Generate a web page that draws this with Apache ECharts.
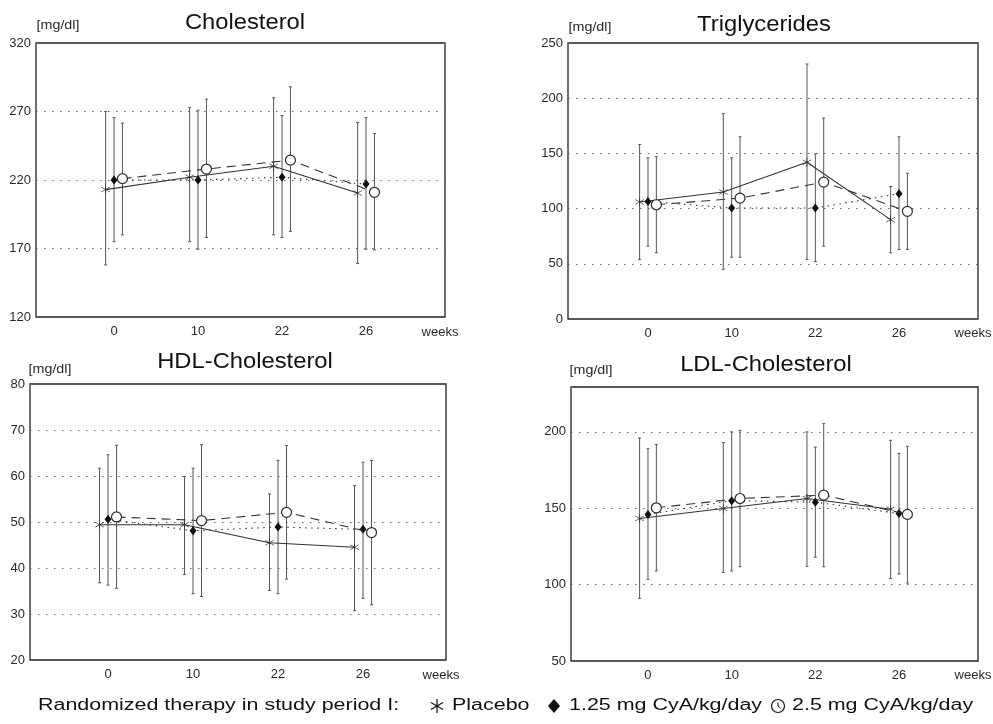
<!DOCTYPE html>
<html><head><meta charset="utf-8">
<script src="https://cdn.jsdelivr.net/npm/echarts@6/dist/echarts.min.js"></script>
<style>html,body{margin:0;padding:0;background:#fff}#c{width:993px;height:724px}</style>
</head><body><div id="c"></div>
<script>
// ---- Data ----
const weekLabels = ['0', '10', '22', '26'];
const seriesNames = ['Placebo', '1.25 mg CyA/kg/day', '2.5 mg CyA/kg/day'];
const captionText = 'Randomized therapy in study period I:';

// Cholesterol [mg/dl]
const cholPlacebo = [213, 222, 230, 210.5];
const cholPlaceboErr = [[158, 270], [175, 273], [180, 280], [159, 262]];
const chol125 = [220, 220, 222, 217];
const chol125Err = [[175, 265.5], [169.5, 271], [178, 267], [169.5, 265.5]];
const chol25 = [221, 228, 234.5, 211];
const chol25Err = [[180, 261.5], [178, 279], [182.5, 288], [169, 254]];

// Triglycerides [mg/dl]
const trigPlacebo = [106, 115, 142, 90];
const trigPlaceboErr = [[54, 158], [45, 186], [54, 231], [60, 120]];
const trig125 = [106.5, 100.5, 100.5, 113.5];
const trig125Err = [[66, 146], [56, 146], [52, 149.5], [63, 165]];
const trig25 = [103.5, 109.5, 124, 97.5];
const trig25Err = [[60, 147], [56, 165], [66, 182], [63, 132]];

// HDL-Cholesterol [mg/dl]
const hdlPlacebo = [49.4, 49.4, 45.5, 44.5];
const hdlPlaceboErr = [[36.8, 61.7], [38.6, 59.9], [35.1, 56.1], [30.7, 57.9]];
const hdl125 = [50.6, 48.1, 48.9, 48.4];
const hdl125Err = [[36.3, 64.6], [34.4, 61.7], [34.4, 63.4], [33.4, 63.0]];
const hdl25 = [51.1, 50.3, 52.1, 47.7];
const hdl25Err = [[35.6, 66.7], [33.8, 66.8], [37.6, 66.6], [32, 63.4]];

// LDL-Cholesterol [mg/dl]
const ldlPlacebo = [143.3, 149.8, 156.4, 149.4];
const ldlPlaceboErr = [[91, 196], [108, 193], [112, 200], [104, 194.5]];
const ldl125 = [146, 155, 154, 146.5];
const ldl125Err = [[103.5, 189], [109, 200], [118, 190], [107, 186]];
const ldl25 = [150.3, 156.4, 158.6, 146];
const ldl25Err = [[109, 191.7], [111.7, 201], [111.7, 205.4], [101, 190.6]];

// ---- Layout / style ----
const FONT = 'Liberation Sans, Arial, Helvetica, sans-serif';
const INK = '#2a2a2a';
const ASTER = 'path://M9.4 1L10.6 1L10.6 19L9.4 19Z M1.64 4.48L18.96 14.48L18.36 15.52L1.04 5.52Z M1.04 14.48L18.36 4.48L18.96 5.52L1.64 15.52Z';
const offsets = [-0.1, 0, 0.1];
const lineTypes = ['solid', [1.5, 4.5], [9, 6]];
const symbols = [ASTER, 'diamond', 'circle'];
const symbolSizes = [9, [7, 9], 10];
const itemStyles = [
  { color: INK },
  { color: '#111' },
  { color: '#fff', borderColor: INK, borderWidth: 1.2 }
];

const panels = [
  { title: 'Cholesterol', means: [cholPlacebo, chol125, chol25], errs: [cholPlaceboErr, chol125Err, chol25Err],
    y: { min: 120, max: 320, interval: 50 }, grid: { left: 36, top: 43, width: 409, height: 274 },
    x: { min: -0.929, max: 3.94 }, titlePos: [245, 23], unitPos: [58, 25], weeksPos: [440, 332] },
  { title: 'Triglycerides', means: [trigPlacebo, trig125, trig25], errs: [trigPlaceboErr, trig125Err, trig25Err],
    y: { min: 0, max: 250, interval: 50 }, grid: { left: 568, top: 43, width: 410, height: 276 },
    x: { min: -0.956, max: 3.944 }, titlePos: [764, 25], unitPos: [590, 27], weeksPos: [973, 333] },
  { title: 'HDL-Cholesterol', means: [hdlPlacebo, hdl125, hdl25], errs: [hdlPlaceboErr, hdl125Err, hdl25Err],
    y: { min: 20, max: 80, interval: 10 }, grid: { left: 30, top: 384, width: 416, height: 276 },
    x: { min: -0.918, max: 3.976 }, titlePos: [245, 362], unitPos: [50, 369], weeksPos: [441, 675] },
  { title: 'LDL-Cholesterol', means: [ldlPlacebo, ldl125, ldl25], errs: [ldlPlaceboErr, ldl125Err, ldl25Err],
    y: { min: 50, max: 229.4, interval: 50 }, grid: { left: 571, top: 387, width: 407, height: 274 },
    x: { min: -0.92, max: 3.944 }, titlePos: [766, 365], unitPos: [591, 370], weeksPos: [973, 675] }
];

const grids = [], xAxes = [], yAxes = [], series = [], graphics = [];

function errRender(params, api) {
  const x = api.value(0);
  const lo = api.coord([x, api.value(1)]);
  const hi = api.coord([x, api.value(2)]);
  const st = { stroke: '#555', lineWidth: 1 };
  return {
    type: 'group',
    children: [
      { type: 'line', shape: { x1: lo[0], y1: lo[1], x2: hi[0], y2: hi[1] }, style: st },
      { type: 'line', shape: { x1: lo[0] - 1.5, y1: lo[1], x2: lo[0] + 1.5, y2: lo[1] }, style: st },
      { type: 'line', shape: { x1: hi[0] - 1.5, y1: hi[1], x2: hi[0] + 1.5, y2: hi[1] }, style: st }
    ]
  };
}

panels.forEach((p, pi) => {
  grids.push(Object.assign({ show: true, borderColor: '#222', borderWidth: 1.3, backgroundColor: 'transparent' }, p.grid));
  xAxes.push({
    type: 'value', gridIndex: pi, min: p.x.min, max: p.x.max,
    axisLine: { show: false }, axisTick: { show: false }, splitLine: { show: false },
    axisLabel: {
      customValues: [0, 1, 2, 3], margin: 8, fontSize: 13, color: INK, fontFamily: FONT,
      formatter: v => weekLabels[Math.round(v)]
    }
  });
  yAxes.push({
    type: 'value', gridIndex: pi, min: p.y.min, max: p.y.max, interval: p.y.interval,
    axisLine: { show: false }, axisTick: { show: false },
    axisLabel: { margin: 5, fontSize: 13, color: INK, fontFamily: FONT, showMaxLabel: pi !== 3 },
    splitLine: { show: true, lineStyle: { color: '#666', width: 1.1, type: [1.5, 6.5] } }
  });
  for (let g = 0; g < 3; g++) {
    series.push({
      type: 'custom', name: 'err-' + pi + '-' + g, xAxisIndex: pi, yAxisIndex: pi,
      renderItem: errRender, silent: true, z: 2,
      encode: { x: 0, y: [1, 2] },
      data: p.errs[g].map((e, i) => [i + offsets[g], e[0], e[1]])
    });
  }
  for (let g = 0; g < 3; g++) {
    series.push({
      type: 'line', name: seriesNames[g], xAxisIndex: pi, yAxisIndex: pi,
      data: p.means[g].map((v, i) => [i + offsets[g], v]),
      symbol: symbols[g], symbolSize: symbolSizes[g], symbolKeepAspect: true, showSymbol: true,
      lineStyle: { color: '#333', width: 1.1, type: lineTypes[g] },
      itemStyle: itemStyles[g], z: 4 + g, silent: true
    });
  }
  graphics.push({ type: 'text', x: p.titlePos[0], y: p.titlePos[1], scaleX: 1.08,
    style: { text: p.title, font: '22px ' + FONT, fill: '#111', align: 'center', verticalAlign: 'middle' } });
  graphics.push({ type: 'text', x: p.unitPos[0], y: p.unitPos[1], scaleX: 1.1,
    style: { text: '[mg/dl]', font: '13px ' + FONT, fill: INK, align: 'center', verticalAlign: 'middle' } });
  graphics.push({ type: 'text', x: p.weeksPos[0], y: p.weeksPos[1],
    style: { text: 'weeks', font: '13px ' + FONT, fill: INK, align: 'center', verticalAlign: 'middle' } });
});

// ---- Bottom caption with the key (wide type as in the original) ----
const KEY_Y = 706;
const WIDE = 1.34;
const keyText = (txt, x) => ({ type: 'text', x: x, y: KEY_Y, scaleX: WIDE,
  style: { text: txt, font: '16px ' + FONT, fill: '#111', align: 'left', verticalAlign: 'middle' } });
graphics.push(keyText(captionText, 38));
// asterisk icon
const ax = 437, ar = 7;
[[0, -ar, 0, ar], [-ar * 0.87, -ar * 0.5, ar * 0.87, ar * 0.5], [-ar * 0.87, ar * 0.5, ar * 0.87, -ar * 0.5]].forEach(s => {
  graphics.push({ type: 'line', x: ax, y: KEY_Y, shape: { x1: s[0], y1: s[1], x2: s[2], y2: s[3] }, style: { stroke: '#111', lineWidth: 1.2 } });
});
graphics.push(keyText(seriesNames[0], 452));
graphics.push({ type: 'polygon', x: 554, y: KEY_Y, shape: { points: [[0, -7], [6, 0], [0, 7], [-6, 0]] }, style: { fill: '#111' } });
graphics.push(keyText(seriesNames[1], 569));
graphics.push({ type: 'circle', x: 778, y: KEY_Y, shape: { cx: 0, cy: 0, r: 6.5 }, style: { fill: '#fff', stroke: '#111', lineWidth: 1.2 } });
graphics.push({ type: 'line', x: 778, y: KEY_Y, shape: { x1: 0, y1: -3.5, x2: 0, y2: 0 }, style: { stroke: '#111', lineWidth: 1 } });
graphics.push({ type: 'line', x: 778, y: KEY_Y, shape: { x1: 0, y1: 0, x2: 2.5, y2: 2 }, style: { stroke: '#111', lineWidth: 1 } });
graphics.push(keyText(seriesNames[2], 792));

const option = {
  animation: false,
  backgroundColor: '#fff',
  grid: grids, xAxis: xAxes, yAxis: yAxes, series: series,
  graphic: graphics
};
const chart = echarts.init(document.getElementById('c'), null, { renderer: 'canvas' });
chart.setOption(option);
</script></body></html>
